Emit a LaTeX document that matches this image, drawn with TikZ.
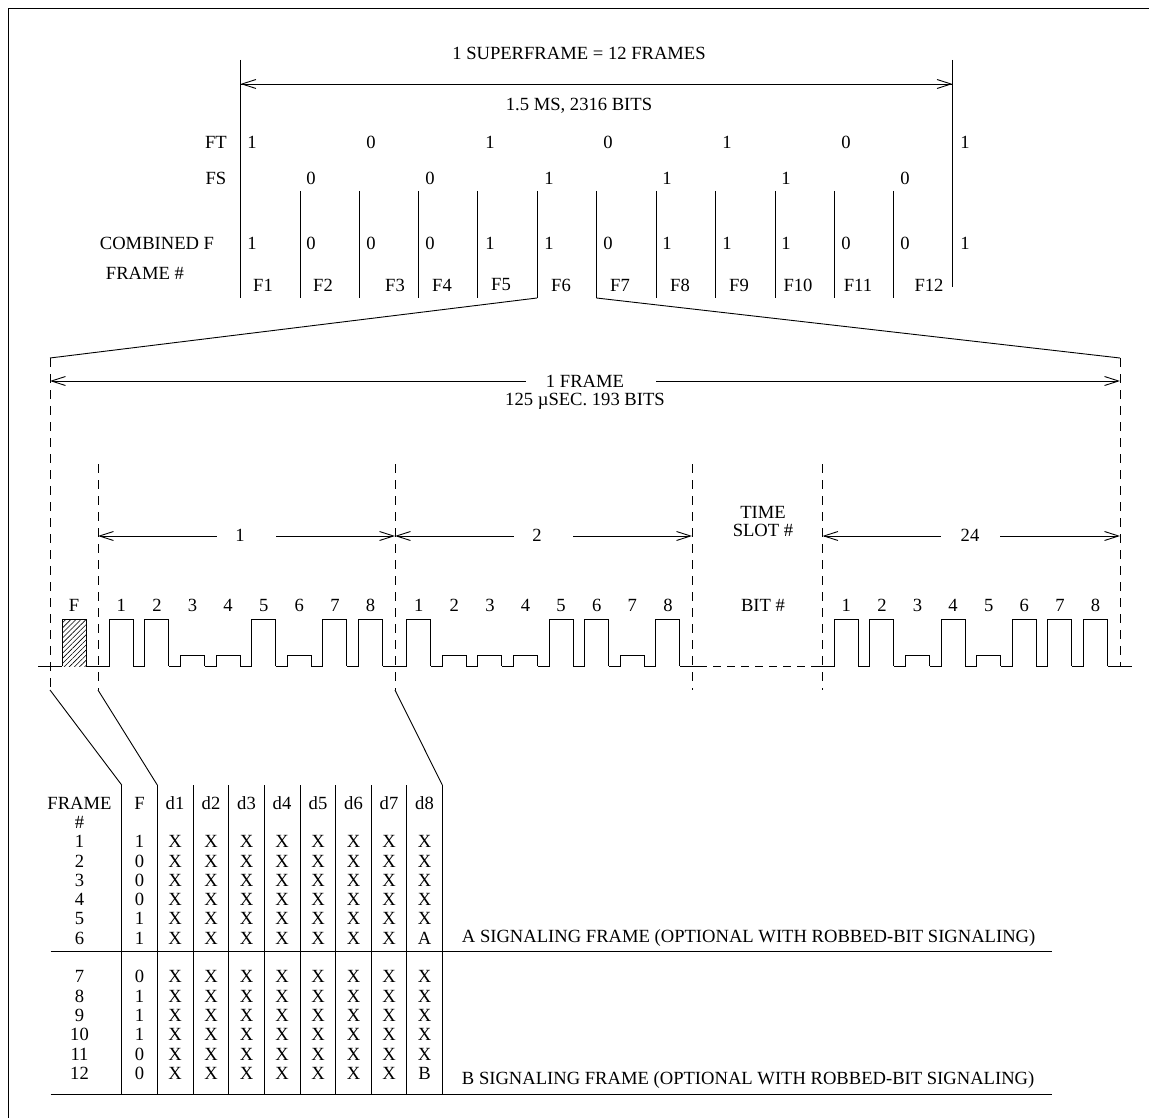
\documentclass[tikz,border=0pt]{standalone}
\usepackage{fontspec}
\setmainfont{Liberation Serif}
\usetikzlibrary{arrows.meta,patterns.meta}

\begin{document}
\begin{tikzpicture}[
      x=1pt, y=-1pt,
      font=\fontsize{18.6}{20}\selectfont,
      line width=0.9pt,
      txt/.style={inner sep=0pt},
      tipL/.style={{Straight Barb[length=14pt,width=9pt]}-},
      tipR/.style={-{Straight Barb[length=14pt,width=9pt]}},
      slotline/.style={dash pattern=on 9pt off 7pt},
      hatched/.style={pattern={Lines[angle=45,distance=3.6pt,line width=0.6pt]}},
    ]
      \useasboundingbox (0,0) rectangle (1149,1118);
      \coordinate (bdBL) at (8,1118);
      \coordinate (bdTL) at (8,8);
      \coordinate (bdTR) at (1149,8);
      \draw (bdBL) -- (bdTL) -- (bdTR);

      % superframe
      \node[txt] (sftitle) at (579,53) {1 SUPERFRAME = 12 FRAMES};
      \node[txt] (sfsize) at (579,106) {1.5 MS, 2316 BITS};
      \coordinate (sfLt) at (240.5,60);
      \coordinate (sfLb) at (240.5,298);
      \coordinate (sfRt) at (952.5,60);
      \coordinate (sfRb) at (952.5,287);
      \coordinate (sfLa) at (240.5,84);
      \coordinate (sfRa) at (952.5,84);
      \draw (sfLt) -- (sfLb);
      \draw (sfRt) -- (sfRb);
      \draw[tipL] (sfLa) -- (sfRa);
      \draw[tipR] (sfLa) -- (sfRa);
      \node[txt] (ftname) at (216,142) {FT};
      \node[txt] (fsname) at (216,178) {FS};
      \node[txt] (cfname) at (157,243) {COMBINED F};
      \node[txt] (fnname) at (145,273) {FRAME \#};
      \foreach \x/\v [count=\i] in {252/1,371/0,490/1,608/0,727/1,846/0,965/1}
        \node[txt] (ft\i) at (\x,142) {\v};
      \foreach \x/\v [count=\i] in {311/0,430/0,549/1,667/1,786/1,905/0}
        \node[txt] (fs\i) at (\x,178) {\v};
      \foreach \x/\v [count=\i] in {252/1,311/0,371/0,430/0,490/1,549/1,608/0,667/1,727/1,786/1,846/0,905/0,965/1}
        \node[txt] (cf\i) at (\x,243) {\v};
      \foreach \x/\v [count=\i] in {263/F1,323/F2,395/F3,442/F4,501/F5,561/F6,620/F7,680/F8,739/F9,798/F10,858/F11,929/F12}
        \node[txt] (fn\i) at (\x,285) {\v};
      \foreach \x [count=\i from 2] in {300,359,418.5,477.5,537,596.5,656,715.5,775,834,893.5} {
        \coordinate (sp\i t) at (\x,191);
        \coordinate (sp\i b) at (\x,298);
        \draw (sp\i t) -- (sp\i b);
      }

      % one frame
      \coordinate (frLt) at (50,358);
      \coordinate (frRt) at (1120,358);
      \coordinate (frLb) at (50,690);
      \coordinate (frRb) at (1120,666);
      \coordinate (frLa) at (50,381);
      \coordinate (frRa) at (1120,381);
      \coordinate (frGl) at (526,381);
      \coordinate (frGr) at (656,381);
      \draw (sp6b) -- (frLt);
      \draw (sp7b) -- (frRt);
      \draw[slotline] (frLt) -- (frLb);
      \draw[slotline] (frRt) -- (frRb);
      \draw[tipL] (frLa) -- (frGl);
      \draw[tipR] (frGr) -- (frRa);
      \node[txt, anchor=base] (frname) at (585,387) {1 FRAME};
      \node[txt, anchor=base] (frsize) at (585,405.5) {125 µSEC. 193 BITS};

      % time slots
      \foreach \n/\x in {a/98,b/395,c/692,d/822.5} {
        \coordinate (sl\n t) at (\x,464);
        \coordinate (sl\n b) at (\x,690);
        \coordinate (sl\n m) at (\x,536);
        \draw[slotline] (sl\n t) -- (sl\n b);
      }
      \coordinate (gapAl) at (217,536);
      \coordinate (gapAr) at (276,536);
      \coordinate (gapBl) at (514,536);
      \coordinate (gapBr) at (573,536);
      \coordinate (gapDl) at (941,536);
      \coordinate (gapDr) at (1000,536);
      \coordinate (frRs) at (1120,536);
      \draw[tipL] (slam) -- (gapAl);
      \draw[tipR] (gapAr) -- (slbm);
      \draw[tipL] (slbm) -- (gapBl);
      \draw[tipR] (gapBr) -- (slcm);
      \draw[tipL] (sldm) -- (gapDl);
      \draw[tipR] (gapDr) -- (frRs);
      \node[txt] (slot1) at (240,535) {1};
      \node[txt] (slot2) at (537,535) {2};
      \node[txt] (slot24) at (970,535) {24};
      \node[txt, anchor=base] (slname1) at (763,518) {TIME};
      \node[txt, anchor=base] (slname2) at (763,536) {SLOT \#};
      \node[txt] (bitname) at (763,605) {BIT \#};

      % waveform
      \draw[dash pattern=on 8pt off 6pt] (699,666) -- (815,666);
      \draw (38,666) -- (62.3,666) (86.3,666) -- (97.7,666) (382.5,666) -- (395.1,666)
            (679.9,666) -- (699,666) (815,666) -- (822.7,666) (1107.5,666) -- (1132,666);
      \fill[hatched] (62.3,666) rectangle (86.3,619);
      \draw (62.3,666) -- (62.3,619) -- (86.3,619) -- (86.3,666);
      \node[txt] (bitF) at (74,605) {F};
      \foreach \s/\x/\lv in {a/109.3/{619,619,655,655,619,655,619,619},b/406.7/{619,655,655,655,619,619,655,619},d/834.3/{619,619,655,619,655,619,619,619}}
        \foreach \y [count=\k from 0] in \lv {
          \pgfmathsetmacro{\xa}{\x+35.6*\k}
          \pgfmathsetmacro{\xb}{\xa+24}
          \pgfmathtruncatemacro{\num}{\k+1}
          \draw (\xa-11.6,666) -- (\xa,666) -- (\xa,\y) -- (\xb,\y) -- (\xb,666);
          \node[txt] (bit\s\num) at (\xa+12,605) {\num};
        }

      % bit table
      \foreach \x [count=\i] in {121.7,157.3,193,228.7,264.3,300,335.6,371.3,406.7,442.3} {
        \coordinate (tb\i t) at (\x,785);
        \coordinate (tb\i b) at (\x,1094);
        \draw (tb\i t) -- (tb\i b);
      }
      \draw (frLb) -- (tb1t);
      \draw (slab) -- (tb2t);
      \draw (slbb) -- (tb10t);
      \coordinate (rlAl) at (50.5,951.5);
      \coordinate (rlAr) at (1051.5,951.5);
      \coordinate (rlBl) at (50.5,1094);
      \coordinate (rlBr) at (1051.5,1094);
      \draw (rlAl) -- (rlAr);
      \draw (rlBl) -- (rlBr);
      \node[txt] (hdname) at (79.5,803) {FRAME};
      \node[txt] (hdhash) at (79.5,822) {\#};
      \node[txt] (hdF) at (139.5,803) {F};
      \foreach \x [count=\i] in {175,211,246.5,282,318,353.5,389,424.5}
        \node[txt] (hd\i) at (\x,803) {d\i};
      \foreach \y/\f/\l [count=\r] in {841/1/X,861/0/X,880/0/X,899/0/X,918/1/X,938/1/A,976/0/X,996/1/X,1015/1/X,1034/1/X,1054/0/X,1073/0/B} {
        \node[txt] (rw\r) at (79.5,\y) {\r};
        \node[txt] (rf\r) at (139.5,\y) {\f};
        \foreach \x [count=\i] in {175,211,246.5,282,318,353.5,389}
          \node[txt] (cl\r x\i) at (\x,\y) {X};
        \node[txt] (cl\r x8) at (424.5,\y) {\l};
      }
      \node[txt, anchor=west] (sigA) at (461.5,938) {A SIGNALING FRAME (OPTIONAL WITH ROBBED-BIT SIGNALING)};
      \node[txt, anchor=west] (sigB) at (461.5,1080) {B SIGNALING FRAME (OPTIONAL WITH ROBBED-BIT SIGNALING)};
    \end{tikzpicture}
\end{document}
